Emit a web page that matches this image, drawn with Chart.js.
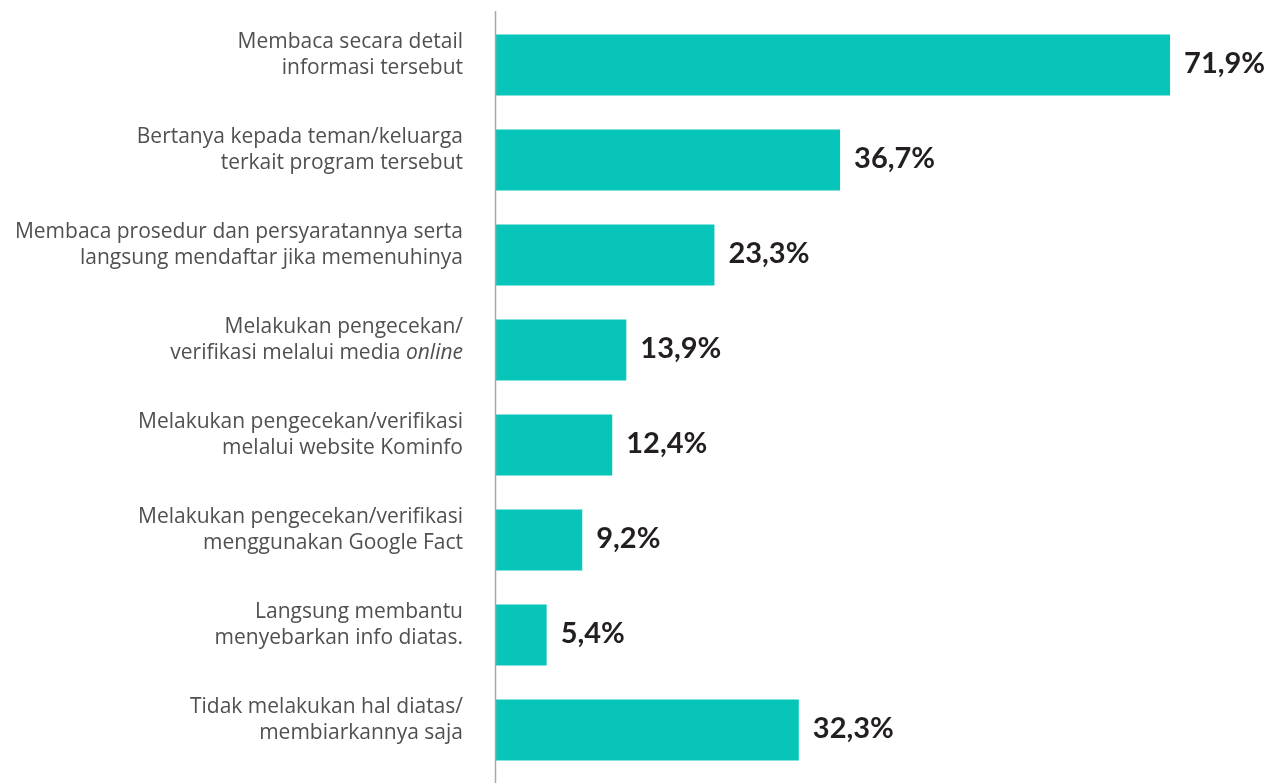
<!DOCTYPE html>
<html>
<head>
<meta charset="utf-8">
<script src="https://cdn.jsdelivr.net/npm/chart.js@4.4.1/dist/chart.umd.min.js"></script>
<style>
  html, body { margin: 0; padding: 0; background: #fff; }
  #wrap { position: relative; width: 1281px; height: 783px; }
</style>
</head>
<body>
<div id="wrap"><canvas id="grafik"></canvas></div>
<script>
// data dari gambar
const kategori = [
    ['Membaca secara detail', 'informasi tersebut'],
    ['Bertanya kepada teman/keluarga', 'terkait program tersebut'],
    ['Membaca prosedur dan persyaratannya serta', 'langsung mendaftar jika memenuhinya'],
    ['Melakukan pengecekan/', 'verifikasi melalui media *online*'],
    ['Melakukan pengecekan/verifikasi', 'melalui website Kominfo'],
    ['Melakukan pengecekan/verifikasi', 'menggunakan Google Fact'],
    ['Langsung membantu', 'menyebarkan info diatas.'],
    ['Tidak melakukan hal diatas/', 'membiarkannya saja']
];
const persentase = [71.9, 36.7, 23.3, 13.9, 12.4, 9.2, 5.4, 32.3];

const FONT_LABEL = '"Open Sans", sans-serif';
const FONT_NILAI = 'Lato, sans-serif';

// label kategori di kiri (manual supaya kata "online" bisa miring)
const labelKiri = {
    id: 'labelKiri',
    afterDraw(chart) {
        const ctx = chart.ctx;
        const y = chart.scales.y;
        const xKanan = chart.chartArea.left - 33;
        ctx.save();
        ctx.fillStyle = '#505050';
        ctx.textBaseline = 'middle';
        kategori.forEach((baris, i) => {
            const yc = y.getPixelForValue(i) - 10;
            baris.forEach((teks, j) => {
                const yy = yc + (j - (baris.length - 1) / 2) * 26;
                // pecah jadi potongan normal / miring
                const bagian = teks.split('*');
                let total = 0;
                const ukuran = bagian.map((b, k) => {
                    ctx.font = (k % 2 ? 'italic ' : '') + '21px ' + FONT_LABEL;
                    const w = ctx.measureText(b).width;
                    total += w;
                    return w;
                });
                let x = xKanan - total;
                ctx.textAlign = 'left';
                bagian.forEach((b, k) => {
                    ctx.font = (k % 2 ? 'italic ' : '') + '21px ' + FONT_LABEL;
                    ctx.fillText(b, x, yy);
                    x += ukuran[k];
                });
            });
        });
        ctx.restore();
    }
};

// nilai persen di ujung batang + garis sumbu
const labelNilai = {
    id: 'labelNilai',
    afterDatasetsDraw(chart) {
        const ctx = chart.ctx;
        const meta = chart.getDatasetMeta(0);
        ctx.save();
        ctx.strokeStyle = '#a8a8a8';
        ctx.lineWidth = 1.5;
        ctx.beginPath();
        ctx.moveTo(chart.chartArea.left - 0.5, 11);
        ctx.lineTo(chart.chartArea.left - 0.5, 783);
        ctx.stroke();

        ctx.fillStyle = '#231f20';
        ctx.font = 'bold 29px ' + FONT_NILAI;
        ctx.textAlign = 'left';
        ctx.textBaseline = 'middle';
        meta.data.forEach((bar, i) => {
            const teks = persentase[i].toFixed(1).replace('.', ',') + '%';
            ctx.fillText(teks, bar.x + 14, bar.y - 1);
        });
        ctx.restore();
    }
};

const ctx = document.getElementById('grafik').getContext('2d');
new Chart(ctx, {
    type: 'bar',
    data: {
        labels: kategori.map(k => k.join(' ')),
        datasets: [{
            data: persentase,
            backgroundColor: '#07c5b9',
            borderWidth: 0,
            categoryPercentage: 1,
            barPercentage: 0.64
        }]
    },
    options: {
        indexAxis: 'y',
        responsive: true,
        maintainAspectRatio: false,
        animation: false,
        layout: { padding: { top: 17.5, bottom: 5.5, left: 0, right: 35 } },
        plugins: { legend: { display: false }, tooltip: { enabled: false } },
        scales: {
            x: { display: false, min: 0, max: 80 },
            y: {
                grid: { display: false },
                border: { display: false },
                ticks: { display: false },
                afterFit(scale) { scale.width = 496; }
            }
        }
    },
    plugins: [labelKiri, labelNilai]
});
</script>
</body>
</html>
